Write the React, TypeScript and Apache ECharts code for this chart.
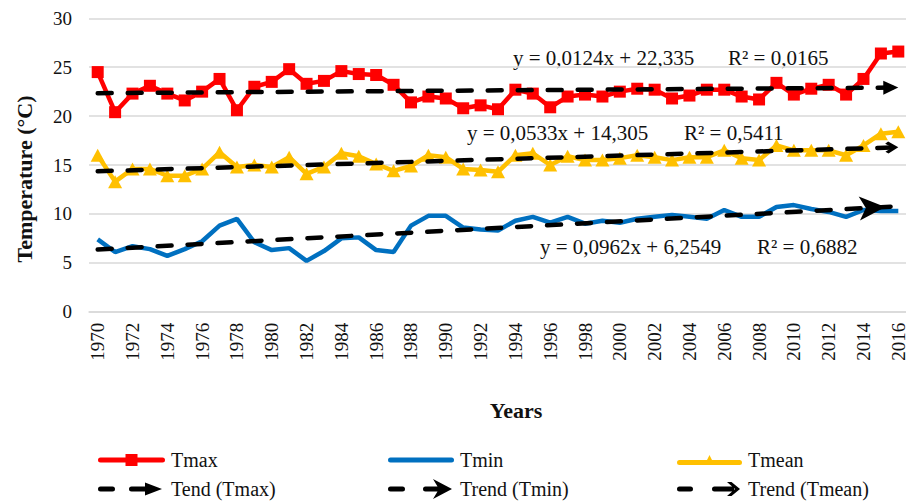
import React, { useEffect, useRef } from "react";
import * as echarts from "echarts";

const years = Array.from({ length: 47 }, (_, i) => String(1970 + i));

const tmax = [
  24.5, 20.4, 22.3, 23.1, 22.3, 21.6, 22.5, 23.8, 20.6, 23.0,
  23.5, 24.8, 23.3, 23.6, 24.6, 24.3, 24.2, 23.2, 21.4, 22.0,
  21.8, 20.8, 21.1, 20.7, 22.7, 22.3, 20.9, 22.0, 22.2, 22.0,
  22.5, 22.8, 22.7, 21.8, 22.1, 22.7, 22.7, 22.0, 21.7, 23.4,
  22.2, 22.8, 23.2, 22.2, 23.8, 26.4, 26.6,
];
const tmin = [
  7.4, 6.1, 6.7, 6.4, 5.7, 6.4, 7.2, 8.8, 9.5, 7.1,
  6.3, 6.5, 5.2, 6.2, 7.5, 7.6, 6.3, 6.1, 8.8, 9.8,
  9.8, 8.6, 8.4, 8.3, 9.3, 9.7, 9.1, 9.7, 9.0, 9.3,
  9.1, 9.5, 9.7, 9.9, 9.7, 9.5, 10.4, 9.7, 9.7, 10.7,
  10.9, 10.5, 10.2, 9.7, 10.4, 10.3, 10.3,
];
const tmean = [
  16.0, 13.3, 14.6, 14.6, 13.9, 13.9, 14.6, 16.3, 14.8, 15.0,
  14.8, 15.8, 14.1, 14.8, 16.2, 15.9, 15.1, 14.4, 14.9, 16.0,
  15.8, 14.6, 14.5, 14.3, 16.0, 16.2, 15.0, 15.9, 15.5, 15.5,
  15.7, 16.0, 15.8, 15.5, 15.8, 15.8, 16.5, 15.7, 15.5, 17.0,
  16.5, 16.5, 16.5, 16.0, 17.0, 18.2, 18.4,
];

// Linear trend coefficients (order: Tmax, Tmin, Tmean), x = 1 .. 47
const trendSlopes = [0.0124, 0.0962, 0.0533];
const trendIntercepts = [22.335, 6.2549, 14.305];
const equationTexts = ["y = 0,0124x + 22,335", "y = 0,0962x + 6,2549", "y = 0,0533x + 14,305"];
const r2Texts = ["R² = 0,0165", "R² = 0,6882", "R² = 0,5411"];

const FONT = "Liberation Serif";
const TXT = "#111";

function trendEnds(k: number) {
  const a = trendSlopes[k];
  const b = trendIntercepts[k];
  return [b + a * 1, b + a * years.length];
}

const ICON_TMAX =
  "path://M2.5,3.5 L64.5,3.5 A2.5,2.5 0 0 1 64.5,8.5 L2.5,8.5 A2.5,2.5 0 0 1 2.5,3.5 Z M27.5,0 L39.5,0 L39.5,12 L27.5,12 Z";
const ICON_TMIN =
  "path://M2.5,0 L63.5,0 A2.5,2.5 0 0 1 63.5,5 L2.5,5 A2.5,2.5 0 0 1 2.5,0 Z";
const ICON_TMEAN =
  "path://M2.5,5 L62.5,5 A2.5,2.5 0 0 1 62.5,10 L2.5,10 A2.5,2.5 0 0 1 2.5,5 Z M27.5,10 L32.5,0 L37.5,10 Z";
const ICON_TR_MAX =
  "path://M2.5,4 L14.5,4 A2.5,2.5 0 0 1 14.5,9 L2.5,9 A2.5,2.5 0 0 1 2.5,4 Z M33.5,4 L48,4 L48,9 L33.5,9 A2.5,2.5 0 0 1 33.5,4 Z M47,0 L64,6.5 L47,13 Z";
const ICON_TR_MIN =
  "path://M2.5,7.5 L14.5,7.5 A2.5,2.5 0 0 1 14.5,12.5 L2.5,12.5 A2.5,2.5 0 0 1 2.5,7.5 Z M37.5,7.5 L52,7.5 L52,12.5 L37.5,12.5 A2.5,2.5 0 0 1 37.5,7.5 Z M45,0 L64,10 L45,20 L51,10 Z";
const ICON_TR_MEAN =
  "path://M2.5,4.5 L13.5,4.5 A2.5,2.5 0 0 1 13.5,9.5 L2.5,9.5 A2.5,2.5 0 0 1 2.5,4.5 Z M37.5,4.5 L57,4.5 L57,9.5 L37.5,9.5 A2.5,2.5 0 0 1 37.5,4.5 Z M50,0 L54.5,0 L63,7 L54.5,14 L50,14 L58,7 Z";
const CHEVRON_UP = "path://M6,0 L12,10 L10,13 L6,6 L2,13 L0,10 Z";

function legendItem(name: string, icon: string, left: number, top: number, w: number, h: number, pad: number) {
  return {
    data: [{ name, icon }],
    left,
    top,
    padding: 0,
    itemWidth: w,
    itemHeight: h,
    selectedMode: false,
    itemStyle: { borderWidth: 0 },
    textStyle: { fontFamily: FONT, fontSize: 20, color: TXT, padding: [0, 0, 0, pad] },
  };
}

function trendSeries(name: string, k: number, symbol: string, size: number[]) {
  const [v0, v1] = trendEnds(k);
  return {
    name,
    type: "line",
    data: [],
    itemStyle: { color: "#000" },
    lineStyle: { color: "#000" },
    markLine: {
      silent: true,
      animation: false,
      label: { show: false },
      emphasis: { disabled: true },
      lineStyle: { color: "#000", width: 4.5, type: [14, 16], cap: "round" },
      symbol: ["none", symbol],
      data: [
        [
          { coord: [years[0], v0], symbol: "none" },
          {
            coord: [years[years.length - 1], v1],
            symbol,
            symbolSize: size,
            symbolOffset: [0, size[1] / 2],
            itemStyle: { color: "#000" },
          },
        ],
      ],
    },
  };
}

export default function App() {
  const ref = useRef<HTMLDivElement>(null);
  useEffect(() => {
    if (!ref.current) return;
    const chart = echarts.init(ref.current, undefined, { renderer: "svg" });
    const eqPos = [
      { x: 513, y: 58, rx: 728 },
      { x: 540, y: 247, rx: 757 },
      { x: 467, y: 133, rx: 684 },
    ];
    const graphics: any[] = [];
    eqPos.forEach((p, k) => {
      graphics.push({
        type: "text",
        x: p.x,
        y: p.y,
        silent: true,
        style: { text: equationTexts[k], fontFamily: FONT, fontSize: 21, fill: TXT, verticalAlign: "middle" },
      });
      graphics.push({
        type: "text",
        x: p.rx,
        y: p.y,
        silent: true,
        style: { text: r2Texts[k], fontFamily: FONT, fontSize: 21, fill: TXT, verticalAlign: "middle" },
      });
    });

    chart.setOption({
      animation: false,
      backgroundColor: "#fff",
      textStyle: { fontFamily: FONT },
      grid: { left: 89, right: -1, top: 18.3, bottom: 190.3, containLabel: false, outerBoundsMode: "none" },
      legend: [
        legendItem("Tmax", ICON_TMAX, 98, 450, 67, 12, 1),
        legendItem("Tmin", ICON_TMIN, 388, 450, 66, 5, 1),
        legendItem("Tmean", ICON_TMEAN, 677, 450, 65, 10, 1),
        legendItem("Tend (Tmax)", ICON_TR_MAX, 98, 479, 64, 13, 4),
        legendItem("Trend (Tmin)", ICON_TR_MIN, 388, 479, 64, 20, 3),
        legendItem("Trend (Tmean)", ICON_TR_MEAN, 677, 479, 63, 14, 3),
      ],
      xAxis: {
        type: "category",
        data: years,
        boundaryGap: true,
        name: "Years",
        nameLocation: "middle",
        nameGap: 88,
        nameTextStyle: { fontFamily: FONT, fontSize: 22, fontWeight: "bold", color: TXT, padding: [0, 0, 0, 36] },
        axisTick: { show: false },
        axisLine: { show: true, lineStyle: { color: "#d9d9d9", width: 1.5 } },
        axisLabel: { interval: 1, rotate: 90, fontSize: 19, fontFamily: FONT, color: TXT, margin: 11 },
        splitLine: { show: false },
      },
      yAxis: {
        type: "value",
        min: 0,
        max: 30,
        interval: 5,
        name: "Temperature (°C)",
        nameLocation: "middle",
        nameGap: 54,
        nameTextStyle: { fontFamily: FONT, fontSize: 22, fontWeight: "bold", color: TXT, padding: [0, 28, 0, 0] },
        axisLine: { show: false },
        axisTick: { show: false },
        axisLabel: { fontSize: 19, fontFamily: FONT, color: TXT, margin: 17 },
        splitLine: { lineStyle: { color: "#d9d9d9", width: 1.5 } },
      },
      graphic: graphics,
      series: [
        {
          name: "Tmax",
          type: "line",
          data: tmax,
          symbol: "rect",
          symbolSize: 12,
          showAllSymbol: true,
          lineStyle: { color: "#FF0000", width: 4.5 },
          itemStyle: { color: "#FF0000" },
        },
        {
          name: "Tmin",
          type: "line",
          data: tmin,
          symbol: "none",
          lineStyle: { color: "#0070C0", width: 4.5 },
          itemStyle: { color: "#0070C0" },
        },
        {
          name: "Tmean",
          type: "line",
          data: tmean,
          symbol: "triangle",
          symbolSize: [14, 13],
          showAllSymbol: true,
          lineStyle: { color: "#FFC000", width: 4.5 },
          itemStyle: { color: "#FFC000" },
        },
        trendSeries("Tend (Tmax)", 0, "triangle", [14, 15]),
        trendSeries("Trend (Tmin)", 1, "arrow", [18, 26]),
        trendSeries("Trend (Tmean)", 2, CHEVRON_UP, [12, 13]),
      ],
    });
    return () => chart.dispose();
  }, []);
  return (
    <div
      ref={ref}
      style={{ position: "fixed", left: 0, top: 0, width: 906, height: 502, background: "#fff" }}
    />
  );
}
